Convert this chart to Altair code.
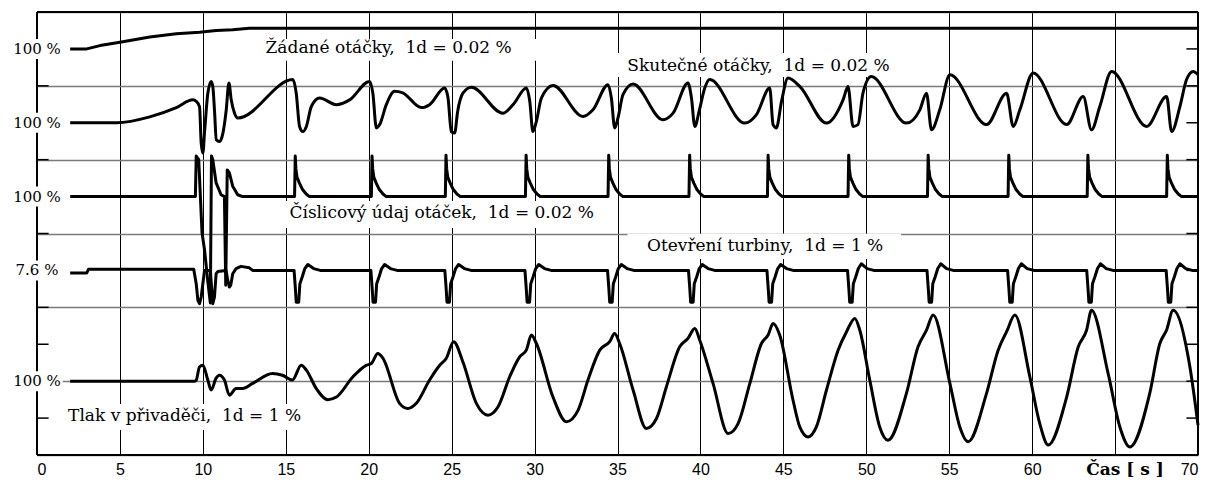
import altair as alt
import pandas as pd

# ---- values: (time [s], deviation in divisions) ----
ZADANE = [(2.0, 0.0), (3.0, 0.0), (3.8, 0.09), (5.0, 0.18), (6.8, 0.32), (8.4, 0.41),
          (9.8, 0.45), (10.8, 0.50), (11.8, 0.52), (12.8, 0.56), (70.0, 0.56)]

SKUTECNE = [(2.0, 0), (4.8, 0), (6.8, 0.16), (8.4, 0.41), (9.4, 0.62), (9.6, 0.58), (9.8, 0.43),
            (9.9, -0.55), (10.0, -0.82), (10.1, -0.27), (10.3, 0.8), (10.5, 1.12), (10.6, 0.98),
            (10.7, 0.35), (10.81, -0.46), (11.01, -0.51), (11.21, -0.28), (11.41, 0.35), (11.57, 1.08),
            (11.71, 0.62), (11.91, 0.26), (12.11, 0.13), (15.43, 1.17), (15.63, 0.8), (15.83, -0.1),
            (16.03, -0.24), (16.24, -0.1), (16.54, 0.44), (17.04, 0.67), (18.05, 0.49), (18.85, 0.62),
            (20.05, 1.12), (20.25, 0.8), (20.46, -0.14), (20.66, -0.05), (21.06, 0.49), (21.56, 0.85),
            (22.05, 0.81), (23.17, 0.41), (23.67, 0.49), (24.58, 0.94), (24.78, 0.68), (24.98, -0.24),
            (25.18, -0.28), (25.36, 0.30), (25.68, 0.80), (26.19, 0.96), (28.09, 0.26), (28.70, 0.49),
            (29.51, 0.94), (29.71, 0.58), (29.90, -0.24), (30.11, 0.04), (30.41, 0.67), (31.11, 1.01),
            (32.92, 0.17), (33.52, 0.35), (34.43, 1.03), (34.63, 0.67), (34.83, -0.14), (35.03, 0.13),
            (35.33, 0.76), (35.94, 1.05), (37.74, 0.08), (38.35, 0.26), (39.25, 1.08), (39.46, 0.67),
            (39.66, -0.10), (39.94, 0.35), (40.26, 0.94), (40.56, 1.17), (42.67, -0.01), (43.38, 0.22),
            (44.18, 0.94), (44.38, -0.05), (44.58, -0.14), (44.89, 0.58), (45.28, 1.21), (46.0, 0.98),
            (47.6, -0.01), (48.6, 0.62), (48.9, 0.98), (49.2, -0.10), (49.5, -0.05), (49.8, 0.80),
            (50.3, 1.25), (52.42, -0.01), (53.23, 0.35), (53.63, 0.80), (53.93, -0.19), (54.43, 0.35),
            (55.04, 1.30), (57.25, -0.05), (58.46, 0.80), (58.86, -0.10), (59.26, 0.35), (60.06, 1.35),
            (62.08, -0.05), (63.08, 0.71), (63.58, -0.19), (64.08, 0.44), (64.79, 1.39), (66.90, -0.10),
            (68.11, 0.71), (68.41, -0.24), (68.91, 0.44), (69.31, 1.17), (69.71, 1.39), (70.0, 1.30)]

CISLICOVY = [(2.0, 0), (9.55, 0), (9.6, 1.1), (9.75, 1.0), (9.95, -0.98), (10.1, -1.44), (10.3, -2.3),
             (10.45, -2.88), (10.52, 1.1), (10.6, 1.0), (10.8, 0.37), (11.1, 0.05), (11.3, 0.0),
             (11.38, -2.4), (11.47, 0.72), (11.6, 0.64), (11.8, 0.28), (12.1, 0.05), (12.4, 0),
             (15.53, 0), (15.57, 1.1), (15.61, 0.75), (15.68, 0.52), (15.83, 0.36), (16.01, 0.19), (16.23, 0.07), (16.43, 0),
             (20.16, 0), (20.20, 1.1), (20.24, 0.75), (20.31, 0.52), (20.46, 0.36), (20.64, 0.19), (20.86, 0.07), (21.06, 0),
             (24.62, 0), (24.66, 1.12), (24.70, 0.75), (24.77, 0.52), (24.92, 0.36), (25.10, 0.19), (25.32, 0.07), (25.52, 0),
             (29.45, 0), (29.49, 1.12), (29.53, 0.75), (29.60, 0.52), (29.75, 0.36), (29.93, 0.19), (30.15, 0.07), (30.35, 0),
             (34.43, 0), (34.47, 1.12), (34.51, 0.75), (34.58, 0.52), (34.73, 0.36), (34.91, 0.19), (35.13, 0.07), (35.33, 0),
             (39.31, 0), (39.35, 1.12), (39.39, 0.75), (39.46, 0.52), (39.61, 0.36), (39.79, 0.19), (40.01, 0.07), (40.21, 0),
             (44.04, 0), (44.08, 1.12), (44.12, 0.75), (44.19, 0.52), (44.34, 0.36), (44.52, 0.19), (44.74, 0.07), (44.94, 0),
             (48.90, 0), (48.94, 1.12), (48.98, 0.75), (49.05, 0.52), (49.20, 0.36), (49.38, 0.19), (49.60, 0.07), (49.80, 0),
             (53.69, 0), (53.73, 1.12), (53.77, 0.75), (53.84, 0.52), (53.99, 0.36), (54.17, 0.19), (54.39, 0.07), (54.59, 0),
             (58.55, 0), (58.59, 1.12), (58.63, 0.75), (58.70, 0.52), (58.85, 0.36), (59.03, 0.19), (59.25, 0.07), (59.45, 0),
             (63.32, 0), (63.36, 1.12), (63.40, 0.75), (63.47, 0.52), (63.62, 0.36), (63.80, 0.19), (64.02, 0.07), (64.22, 0),
             (68.11, 0), (68.15, 1.12), (68.19, 0.75), (68.26, 0.52), (68.41, 0.36), (68.59, 0.19), (68.81, 0.07), (69.01, 0),
             (70.0, 0)]

OTEVRENI = [(2.0, -0.07), (3.0, -0.07), (3.1, 0.03), (9.45, 0.03), (9.6, -0.36), (9.7, -0.81), (9.8, -0.9),
            (9.9, -0.72), (10.1, 0.0), (10.45, 0.0), (10.5, -0.3), (10.6, -0.9), (10.7, -0.72), (10.8, -0.09),
            (10.9, -0.03), (11.4, 0.0), (11.5, -0.27), (11.6, -0.45), (11.68, -0.4), (11.8, -0.09),
            (12.0, 0.05), (12.3, 0.11), (12.8, 0.07), (13.0, 0.0),
            (15.50, 0), (15.58, -0.5), (15.63, -0.86), (15.78, -0.86), (15.85, -0.36), (15.99, -0.18), (16.15, 0.05), (16.33, 0.16), (16.68, 0.05), (17.08, 0),
            (20.13, 0), (20.21, -0.5), (20.26, -0.86), (20.41, -0.86), (20.48, -0.36), (20.62, -0.18), (20.78, 0.05), (20.96, 0.16), (21.31, 0.05), (21.71, 0),
            (24.59, 0), (24.67, -0.5), (24.72, -0.86), (24.87, -0.86), (24.94, -0.36), (25.08, -0.18), (25.24, 0.05), (25.42, 0.16), (25.77, 0.05), (26.17, 0),
            (29.42, 0), (29.50, -0.5), (29.55, -0.86), (29.70, -0.86), (29.77, -0.36), (29.91, -0.18), (30.07, 0.05), (30.25, 0.16), (30.60, 0.05), (31.00, 0),
            (34.40, 0), (34.48, -0.5), (34.53, -0.86), (34.68, -0.86), (34.75, -0.36), (34.89, -0.18), (35.05, 0.05), (35.23, 0.16), (35.58, 0.05), (35.98, 0),
            (39.28, 0), (39.36, -0.5), (39.41, -0.86), (39.56, -0.86), (39.63, -0.36), (39.77, -0.18), (39.93, 0.05), (40.11, 0.16), (40.46, 0.05), (40.86, 0),
            (44.01, 0), (44.09, -0.5), (44.14, -0.86), (44.29, -0.86), (44.36, -0.36), (44.50, -0.18), (44.66, 0.05), (44.84, 0.16), (45.19, 0.05), (45.59, 0),
            (48.87, 0), (48.95, -0.5), (49.00, -0.86), (49.15, -0.86), (49.22, -0.36), (49.36, -0.18), (49.52, 0.05), (49.70, 0.18), (50.05, 0.05), (50.45, 0),
            (53.66, 0), (53.74, -0.5), (53.79, -0.86), (53.94, -0.86), (54.01, -0.36), (54.15, -0.18), (54.31, 0.05), (54.49, 0.18), (54.84, 0.05), (55.24, 0),
            (58.52, 0), (58.60, -0.5), (58.65, -0.86), (58.80, -0.86), (58.87, -0.36), (59.01, -0.18), (59.17, 0.05), (59.35, 0.18), (59.70, 0.05), (60.10, 0),
            (63.29, 0), (63.37, -0.5), (63.42, -0.86), (63.57, -0.86), (63.64, -0.36), (63.78, -0.18), (63.94, 0.05), (64.12, 0.18), (64.47, 0.05), (64.87, 0),
            (68.08, 0), (68.16, -0.5), (68.21, -0.86), (68.36, -0.86), (68.43, -0.36), (68.57, -0.18), (68.73, 0.05), (68.91, 0.18), (69.26, 0.05), (69.66, 0),
            (70.0, 0)]

TLAK = [(2.0, 0), (9.5, 0), (9.6, 0.03), (9.8, 0.39), (10.0, 0.43), (10.3, 0.03), (10.5, -0.24), (10.8, 0.08),
        (11.0, 0.16), (11.3, 0.03), (11.6, -0.38), (12.0, -0.2), (12.4, -0.2), (13.0, -0.06), (14.2, 0.21),
        (14.8, 0.16), (15.4, 0.03), (15.93, 0.43), (16.24, 0.3), (16.84, -0.2), (17.54, -0.5), (18.05, -0.43),
        (19.05, 0.12), (19.85, 0.43), (20.16, 0.48), (20.55, 0.75), (20.86, 0.62), (21.86, -0.6), (22.36, -0.74),
        (22.87, -0.6), (23.67, 0.03), (24.28, 0.43), (24.68, 0.62), (25.12, 1.07), (25.68, 0.52), (26.49, -0.6),
        (27.19, -0.92), (27.79, -0.7), (28.5, 0.12), (29.1, 0.66), (29.5, 0.84), (29.81, 1.25), (30.11, 1.02),
        (31.11, -0.43), (31.92, -1.1), (32.62, -0.79), (33.22, 0.03), (33.93, 0.84), (34.53, 1.07), (34.83, 1.29),
        (35.13, 1.02), (35.94, -0.24), (36.74, -1.28), (37.35, -1.01), (37.95, -0.15), (38.75, 0.93), (39.25, 1.16),
        (39.66, 1.43), (39.96, 1.11), (40.76, -0.06), (41.67, -1.42), (42.27, -1.15), (42.98, -0.06), (43.68, 1.02),
        (44.08, 1.25), (44.38, 1.56), (44.78, 1.25), (45.58, -0.51), (45.99, -1.24), (46.49, -1.51), (46.99, -1.24),
        (47.6, -0.24), (48.3, 0.84), (48.81, 1.34), (49.31, 1.7), (49.61, 1.38), (50.21, 0.03), (50.81, -1.24),
        (51.31, -1.6), (52.42, -0.33), (53.12, 0.93), (53.63, 1.38), (54.03, 1.79), (55.04, -0.06), (55.64, -1.24),
        (56.14, -1.64), (57.25, -0.33), (57.95, 0.84), (58.46, 1.34), (58.96, 1.79), (59.86, 0.12), (60.46, -1.15),
        (60.97, -1.73), (62.08, -0.43), (62.78, 0.93), (63.28, 1.38), (63.58, 1.92), (64.58, 0.21), (65.29, -1.24),
        (65.89, -1.78), (67.09, -0.33), (67.7, 1.02), (68.1, 1.38), (68.5, 1.92), (69.51, 0.39), (70.0, -1.19)]

X_TICKS = list(range(0, 71, 5))
Y_LEVELS = list(range(0, 13))
Y_LABELS = [(11, "100 %"), (9, "100 %"), (7, "100 %"), (5, "7.6 %"), (2, "100 %")]

# ---- layout (reference level of each trace, in grid divisions) ----
BASES = {"zad": 11, "sku": 9, "cis": 7, "ote": 5, "tlak": 2}
X0, X1, Y0, Y1 = 0, 70, 0, 12
NB = "\u00a0"

ANNOT = [
    dict(text="Žádané otáčky," + NB + " 1d = 0.02 %", t=21.2, y=11.02, t1=12.5, t2=30.2, y1=10.68, y2=11.27),
    dict(text="Skutečné otáčky," + NB + " 1d = 0.02 %", t=43.5, y=10.54, t1=34.2, t2=52.7, y1=10.24, y2=10.89),
    dict(text="Číslicový údaj otáček," + NB + " 1d = 0.02 %", t=24.4, y=6.56, t1=13.7, t2=34.75, y1=6.15, y2=6.88),
    dict(text="Otevření turbiny," + NB + " 1d = 1 %", t=43.9, y=5.66, t1=35.6, t2=52.1, y1=5.31, y2=5.99),
    dict(text="Tlak v přivaděči," + NB + " 1d = 1 %", t=8.9, y=1.06, t1=0.75, t2=17.15, y1=0.68, y2=1.38),
]

rows = []
for name, pts in [("zad", ZADANE), ("sku", SKUTECNE), ("cis", CISLICOVY), ("ote", OTEVRENI), ("tlak", TLAK)]:
    for t, v in pts:
        rows.append({"s": name, "t": t, "y": BASES[name] + v})
df = pd.DataFrame(rows)

xs = alt.Scale(domain=[X0, X1], nice=False, zero=False)
ys = alt.Scale(domain=[Y0, Y1], nice=False, zero=False)

x_axis = alt.Axis(values=X_TICKS, labelExpr="datum.value == 65 ? '' : datum.label",
                  grid=True, gridColor="#000000", gridWidth=1, domain=False, ticks=False,
                  labelFont="Liberation Sans", labelFontSize=16, labelColor="#000000",
                  labelPadding=6, title=None, zindex=0)
y_axis = alt.Axis(values=Y_LEVELS, grid=True, gridColor="#7a7a7a", gridWidth=1.5,
                  labels=False, ticks=False, domain=False, title=None, zindex=0)

# border and inward ticks
rules = [dict(t=X0, t2=X0, y=Y0, y2=Y1), dict(t=X1, t2=X1, y=Y0, y2=Y1),
         dict(t=X0, t2=X1, y=Y1, y2=Y1), dict(t=X0, t2=X1, y=Y0, y2=Y0)]
tick_rules = []
for lv in Y_LEVELS[1:-1]:
    tick_rules.append(dict(t=X0, t2=X0 + 0.7, y=lv, y2=lv))
    tick_rules.append(dict(t=X1 - 0.7, t2=X1, y=lv, y2=lv))

border = alt.Chart(pd.DataFrame(rules)).mark_rule(color="black", strokeWidth=2).encode(
    x=alt.X("t:Q", scale=xs, axis=x_axis), x2="t2:Q",
    y=alt.Y("y:Q", scale=ys, axis=y_axis), y2="y2:Q")
ticks = alt.Chart(pd.DataFrame(tick_rules)).mark_rule(color="black", strokeWidth=1.5).encode(
    x=alt.X("t:Q", scale=xs), x2="t2:Q", y=alt.Y("y:Q", scale=ys), y2="y2:Q")

adf = pd.DataFrame(ANNOT)
abox = alt.Chart(adf).mark_rect(color="white").encode(
    x=alt.X("t1:Q", scale=xs), x2="t2:Q", y=alt.Y("y1:Q", scale=ys), y2="y2:Q")
atext = alt.Chart(adf).mark_text(font="DejaVu Serif", fontSize=17, color="black",
                                 align="center", baseline="middle").encode(
    x=alt.X("t:Q", scale=xs), y=alt.Y("y:Q", scale=ys), text="text:N")

smooth = alt.Chart(df[df.s.isin(["sku", "tlak"])]).mark_line(
    color="black", strokeWidth=3, interpolate="monotone", strokeJoin="round").encode(
    x=alt.X("t:Q", scale=xs), y=alt.Y("y:Q", scale=ys), detail="s:N")
straight = alt.Chart(df[df.s.isin(["zad", "cis", "ote"])]).mark_line(
    color="black", strokeWidth=3, strokeJoin="round").encode(
    x=alt.X("t:Q", scale=xs), y=alt.Y("y:Q", scale=ys), detail="s:N")

ylab = pd.DataFrame([dict(y=v, label=l, t=X0, t1=X0 - 1.55, t2=X0 + 1.55, y1=v - 0.27, y2=v + 0.27)
                     for v, l in Y_LABELS])
ybox = alt.Chart(ylab).mark_rect(color="white").encode(
    x=alt.X("t1:Q", scale=xs), x2="t2:Q", y=alt.Y("y1:Q", scale=ys), y2="y2:Q")
ytext = alt.Chart(ylab).mark_text(font="DejaVu Serif", fontSize=15, color="black",
                                  align="center", baseline="middle").encode(
    x=alt.X("t:Q", scale=xs), y=alt.Y("y:Q", scale=ys), text="label:N")

cas = alt.Chart(pd.DataFrame([dict(t=65.6, y=-0.41, text="Čas [ s ]")])).mark_text(
    font="DejaVu Serif", fontSize=17, fontWeight="bold", color="black",
    align="center", baseline="middle").encode(
    x=alt.X("t:Q", scale=xs), y=alt.Y("y:Q", scale=ys), text="text:N")

chart = alt.layer(border, ticks, abox, smooth, straight, ybox, ytext, atext, cas).properties(
    width=1161, height=443,
    autosize=alt.AutoSizeParams(type="none"),
    padding={"left": 37, "top": 12, "right": 8, "bottom": 27},
    background="white",
).configure_view(stroke=None)

chart.save("out.html", embed_options={"renderer": "svg", "actions": False})
